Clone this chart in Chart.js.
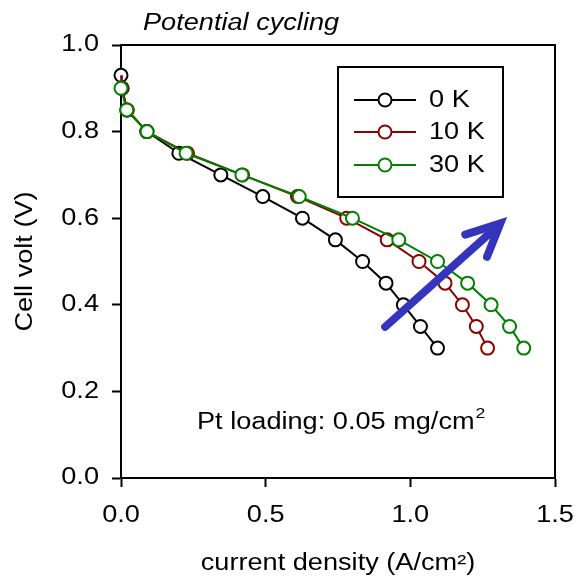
<!DOCTYPE html>
<html>
<head>
<meta charset="utf-8">
<script src="https://cdn.jsdelivr.net/npm/chart.js@4.4.1/dist/chart.umd.min.js"></script>
<style>
html,body{margin:0;padding:0;background:#fff;}
#wrap{width:576px;height:577px;position:relative;}
</style>
</head>
<body>
<div id="wrap"><canvas id="c" width="576" height="577"></canvas></div>
<script>
// ---- data ----
const seriesNames = ['0 K', '10 K', '30 K'];
const voltage0K  = [0.93, 0.90, 0.85, 0.80, 0.75, 0.70, 0.65, 0.60, 0.55, 0.50, 0.45, 0.40, 0.35, 0.30];
const current0K  = [0.000, 0.004, 0.020, 0.089, 0.200, 0.345, 0.490, 0.627, 0.741, 0.835, 0.916, 0.976, 1.035, 1.094];
const voltage10K = [0.93, 0.90, 0.85, 0.80, 0.75, 0.70, 0.65, 0.60, 0.55, 0.50, 0.45, 0.40, 0.35, 0.30];
const current10K = [0.000, 0.003, 0.022, 0.090, 0.230, 0.420, 0.610, 0.780, 0.920, 1.030, 1.120, 1.180, 1.228, 1.267];
const voltage30K = [0.90, 0.85, 0.80, 0.75, 0.70, 0.65, 0.60, 0.55, 0.50, 0.45, 0.40, 0.35, 0.30];
const current30K = [0.000, 0.020, 0.090, 0.225, 0.418, 0.616, 0.800, 0.960, 1.094, 1.198, 1.279, 1.343, 1.392];
const xTicks = [0.0, 0.5, 1.0, 1.5];
const yTicks = [0.0, 0.2, 0.4, 0.6, 0.8, 1.0];
const colors = ['#000000', '#8b0000', '#008000'];
// arrow in data coordinates: tail, tip, arm1, arm2
const arrowTail = [0.913, 0.349];
const arrowTip  = [1.311, 0.588];
const arrowArm1 = [1.190, 0.562];
const arrowArm2 = [1.265, 0.511];

function pts(xs, ys){ return xs.map((x,i)=>({x:x, y:ys[i]})); }
const dataSets = [pts(current0K, voltage0K), pts(current10K, voltage10K), pts(current30K, voltage30K)];

const FONT = "'Liberation Sans', Arial, sans-serif";
const SX = 1.18; // the reference font is set wide

const canvas = document.getElementById('c');
const ctx0 = canvas.getContext('2d');
const origFill = ctx0.fillText.bind(ctx0);
ctx0.fillText = function(t, x, y){
  this.save(); this.translate(x, y); this.scale(SX, 1); origFill(t, 0, 0); this.restore();
};

const decor = {
  id: 'decor',
  beforeDatasetsDraw(chart){
    const ctx = chart.ctx, a = chart.chartArea;
    ctx.save();
    ctx.strokeStyle = '#000'; ctx.lineWidth = 2;
    ctx.beginPath();
    ctx.moveTo(a.left, a.top); ctx.lineTo(a.right, a.top); ctx.lineTo(a.right, a.bottom);
    ctx.stroke();
    ctx.restore();
  },
  afterDatasetsDraw(chart){
    const ctx = chart.ctx;
    const xs = chart.scales.x, ys = chart.scales.y;
    ctx.save();
    // arrow
    const P = p => [xs.getPixelForValue(p[0]), ys.getPixelForValue(p[1])];
    const t = P(arrowTail), h = P(arrowTip), m1 = P(arrowArm1), m2 = P(arrowArm2);
    ctx.strokeStyle = '#3434bc'; ctx.lineWidth = 8; ctx.lineCap = 'round'; ctx.lineJoin = 'miter';
    ctx.beginPath(); ctx.moveTo(t[0], t[1]); ctx.lineTo(h[0]-3, h[1]+3); ctx.stroke();
    ctx.beginPath(); ctx.moveTo(m1[0], m1[1]); ctx.lineTo(h[0], h[1]); ctx.lineTo(m2[0], m2[1]); ctx.stroke();
    // legend
    ctx.lineCap = 'butt';
    ctx.strokeStyle = '#000'; ctx.lineWidth = 2;
    ctx.fillStyle = '#fff';
    ctx.fillRect(338, 67, 165, 130);
    ctx.strokeRect(338, 67, 165, 130);
    const rows = [100, 132, 165];
    ctx.font = '23px ' + FONT; ctx.textBaseline = 'middle'; ctx.textAlign = 'left';
    seriesNames.forEach((n, i) => {
      const y = rows[i];
      ctx.strokeStyle = colors[i]; ctx.lineWidth = 2;
      ctx.beginPath(); ctx.moveTo(354, y); ctx.lineTo(416, y); ctx.stroke();
      ctx.beginPath(); ctx.arc(385, y, 6.5, 0, Math.PI*2);
      ctx.fillStyle = '#fff'; ctx.fill(); ctx.stroke();
      ctx.fillStyle = '#000';
      ctx.fillText(n, 429, y + 1);
    });
    // title
    ctx.font = 'italic 23px ' + FONT; ctx.textBaseline = 'alphabetic';
    ctx.fillText('Potential cycling', 143, 30);
    // annotation
    ctx.font = '23px ' + FONT;
    const s = 'Pt loading: 0.05 mg/cm';
    ctx.fillText(s, 197, 429);
    const w = ctx.measureText(s).width * SX;
    ctx.font = '15px ' + FONT;
    ctx.fillText('2', 197 + w + 1, 418);
    ctx.restore();
  }
};

new Chart(canvas, {
  type: 'line',
  data: {
    datasets: dataSets.map((d, i) => ({
      label: seriesNames[i],
      data: d,
      order: dataSets.length - 1 - i,
      borderColor: colors[i],
      backgroundColor: '#ffffff',
      borderWidth: 2,
      // the first 10 K marker sits hidden behind the 0 K marker in the reference
      pointRadius: c => (i === 1 && c.dataIndex === 0) ? 0 : 6.5,
      pointBorderWidth: 2,
      pointBackgroundColor: '#ffffff',
      pointBorderColor: colors[i],
      tension: 0,
      fill: false,
      clip: false
    }))
  },
  options: {
    responsive: false,
    animation: false,
    devicePixelRatio: 1,
    layout: { padding: { left: 0, top: 45, right: 21, bottom: 0 } },
    plugins: { legend: { display: false }, title: { display: false }, tooltip: { enabled: false } },
    scales: {
      x: {
        type: 'linear', min: 0, max: 1.5,
        afterFit(s){ s.height = 99; s.paddingLeft = 0; s.paddingRight = 0; },
        afterBuildTicks(s){ s.ticks = xTicks.map(v => ({value: v})); },
        ticks: { font: { family: FONT, size: 23 }, color: '#000', padding: 15, maxRotation: 0,
                 callback: v => v.toFixed(1) },
        grid: { display: true, drawOnChartArea: false, drawTicks: true, tickLength: 9, tickWidth: 2, tickColor: '#000' },
        border: { display: true, color: '#000', width: 2 },
        title: { display: true, text: 'current density (A/cm²)', color: '#000',
                 font: { family: FONT, size: 23 }, padding: { top: 0, bottom: 0 } }
      },
      y: {
        type: 'linear', min: 0, max: 1.0,
        afterFit(s){ s.width = 121; s.paddingTop = 0; s.paddingBottom = 0; },
        afterBuildTicks(s){ s.ticks = yTicks.map(v => ({value: v})); },
        ticks: { font: { family: FONT, size: 23 }, color: '#000', padding: 13,
                 callback: v => v.toFixed(1) },
        grid: { display: true, drawOnChartArea: false, drawTicks: true, tickLength: 9, tickWidth: 2, tickColor: '#000' },
        border: { display: true, color: '#000', width: 2 },
        title: { display: true, text: 'Cell volt (V)', color: '#000',
                 font: { family: FONT, size: 23 }, padding: { top: 12, bottom: 0 } }
      }
    }
  },
  plugins: [decor]
});
</script>
</body>
</html>
